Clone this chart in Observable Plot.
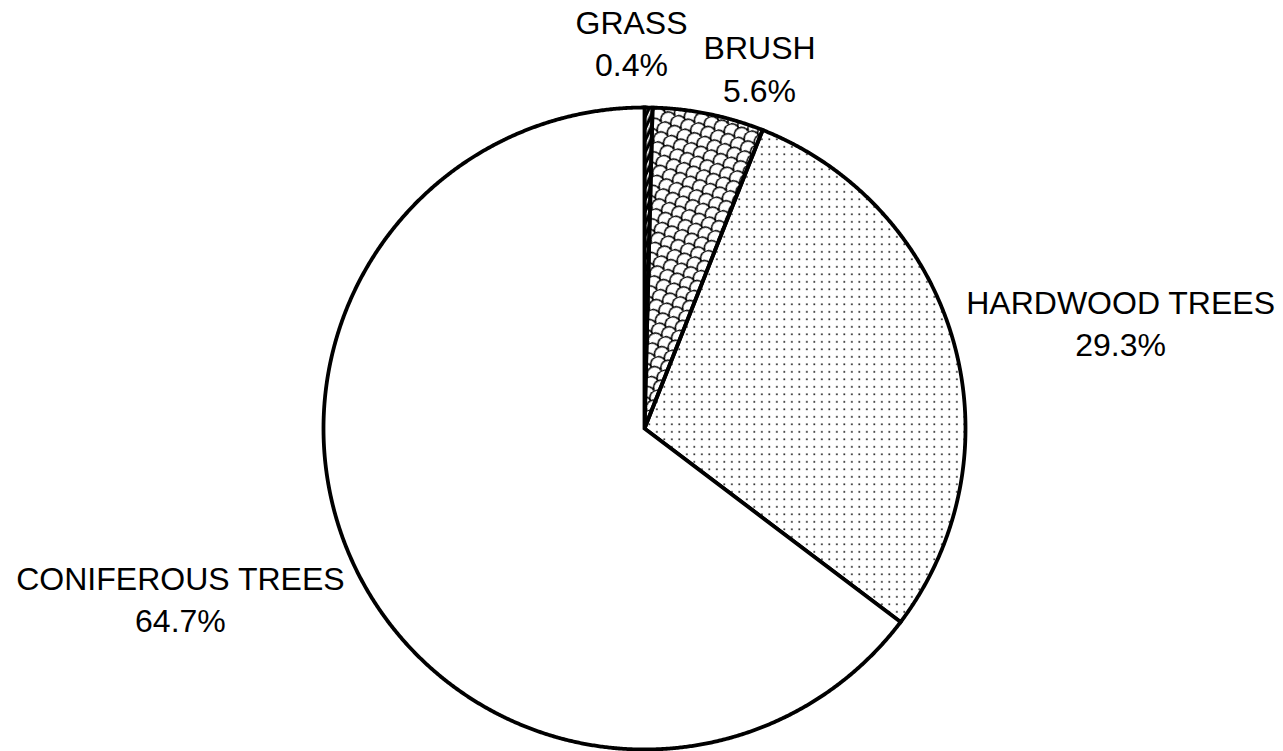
<!DOCTYPE html>
<html>
<head>
<meta charset="utf-8">
<script src="https://cdn.jsdelivr.net/npm/d3@7"></script>
<script src="https://cdn.jsdelivr.net/npm/@observablehq/plot@0.6"></script>
<style>
  body { margin: 0; background: #fff; }
  #chart svg { display: block; }
</style>
</head>
<body>
<div id="chart"></div>
<script>
// Land cover shares (percent), clockwise from 12 o'clock
const categories = ["GRASS", "BRUSH", "HARDWOOD TREES", "CONIFEROUS TREES"];
const shares = [0.4, 5.6, 29.3, 64.7];
const shareLabels = ["0.4%", "5.6%", "29.3%", "64.7%"];

// Styling, kept apart from the data
const sliceFill = {
  "GRASS": "url(#grass)",
  "BRUSH": "url(#shingle)",
  "HARDWOOD TREES": "url(#dots)",
  "CONIFEROUS TREES": "white"
};
// extra pixel shifts for the label boxes (small slices are pushed apart)
const labelNudge = {
  "GRASS": [-18, -12],
  "BRUSH": [35, 6],
  "HARDWOOD TREES": [-5, -6],
  "CONIFEROUS TREES": [-8, 2]
};

const W = 1283, H = 751;
const cx = 644, cy = 428, R = 321;       // pie centre and radius in pixels
const fontSize = 32, lineHeight = 1.32;
const font = `${fontSize}px "Liberation Sans", Arial, sans-serif`;

// Slice geometry in unit-radius coordinates (y up), from the shares
const total = d3.sum(shares);
let cum = 0;
const slices = categories.map((name, i) => {
  const a0 = (cum / total) * 2 * Math.PI;
  cum += shares[i];
  const a1 = (cum / total) * 2 * Math.PI;
  return {name, value: shares[i], label: shareLabels[i], a0, a1, mid: (a0 + a1) / 2};
});

const wedgePoints = slices.flatMap((s) => {
  const n = Math.max(2, Math.ceil((s.a1 - s.a0) / (Math.PI / 720)));
  const pts = [{name: s.name, x: 0, y: 0}];
  for (let k = 0; k <= n; ++k) {
    const a = s.a0 + (s.a1 - s.a0) * (k / n);
    pts.push({name: s.name, x: Math.sin(a), y: Math.cos(a)});
  }
  return pts;
});

// Label placement: anchor just outside the rim on the mid-angle,
// box pushed outward so its near side faces the slice
const ctx = document.createElement("canvas").getContext("2d");
ctx.font = font;
const labelPad = 345 / R;
const labels = slices.map((s) => {
  const text = `${s.name}\n${s.label}`;
  const w = Math.max(ctx.measureText(s.name).width, ctx.measureText(s.label).width);
  const h = 60;
  const sx = Math.sin(s.mid), sy = Math.cos(s.mid);
  const [nx, ny] = labelNudge[s.name];
  return {
    text,
    x: labelPad * sx + (sx * w / 2 + nx) / R,
    y: labelPad * sy + (sy * h / 2 - ny) / R
  };
});

const marks = slices.map((s) =>
  Plot.line(wedgePoints.filter((d) => d.name === s.name), {
    x: "x", y: "y",
    curve: "linear-closed",
    fill: sliceFill[s.name],
    stroke: "black",
    strokeWidth: 3.8,
    strokeLinejoin: "miter",
    strokeMiterlimit: 10
  })
);
marks.push(
  Plot.text(labels, {
    x: "x", y: "y", text: "text",
    textAnchor: "middle",
    lineAnchor: "middle",
    lineHeight,
    fontSize,
    fill: "black"
  })
);

const chart = Plot.plot({
  width: W,
  height: H,
  margin: 0,
  style: {fontFamily: '"Liberation Sans", Arial, sans-serif', background: "white"},
  x: {domain: [-cx / R, (W - cx) / R], axis: null},
  y: {domain: [-(H - cy) / R, cy / R], axis: null},
  marks
});

// Fill patterns for the slices
const defs = document.createElementNS("http://www.w3.org/2000/svg", "defs");
defs.innerHTML = `
  <pattern id="dots" width="7.5" height="7.5" patternUnits="userSpaceOnUse">
    <rect x="3" y="3" width="1.7" height="1.7" fill="#222"/>
  </pattern>
  <pattern id="shingle" width="15" height="15" patternUnits="userSpaceOnUse" patternTransform="rotate(-25)">
    <path d="M0,7.5 a7.5,7.5 0 0,1 15,0 M-7.5,15 a7.5,7.5 0 0,1 15,0 M7.5,15 a7.5,7.5 0 0,1 15,0 M-7.5,0 a7.5,7.5 0 0,1 15,0 M7.5,0 a7.5,7.5 0 0,1 15,0"
          fill="none" stroke="#000" stroke-width="1.5"/>
  </pattern>
  <pattern id="grass" width="5" height="5" patternUnits="userSpaceOnUse" patternTransform="rotate(25)">
    <rect width="5" height="5" fill="#000"/>
    <rect width="1.6" height="5" fill="#fff"/>
  </pattern>`;
chart.insertBefore(defs, chart.firstChild);

document.getElementById("chart").append(chart);
</script>
</body>
</html>
